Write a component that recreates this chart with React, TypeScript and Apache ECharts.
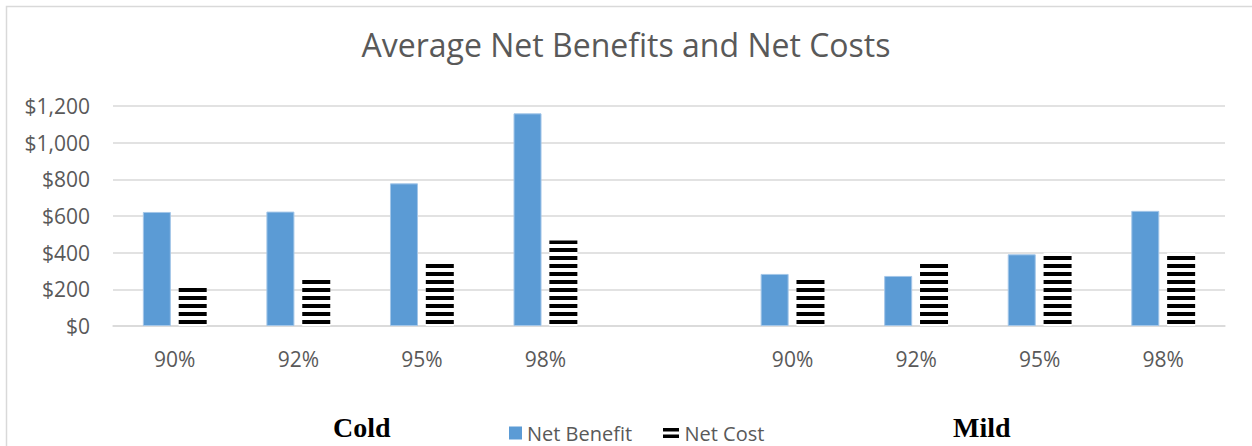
import React, { useEffect, useRef } from "react";
import * as echarts from "echarts";

const categories = ["Cold 90%", "Cold 92%", "Cold 95%", "Cold 98%", "gap", "Mild 90%", "Mild 92%", "Mild 95%", "Mild 98%"];
const tickLabels = ["90%", "92%", "95%", "98%", "", "90%", "92%", "95%", "98%"];
const netBenefit = [622, 624, 778, 1160, null, 284, 273, 391, 628];
const netCost = [210, 268, 355, 467, null, 267, 338, 400, 400];
const yTicks = [0, 200, 400, 600, 800, 1000, 1200];
const groupLabels = ["Cold", "Mild"];

const FONT = "'Open Sans', 'Noto Sans', sans-serif";
const GREY = "#595959";

function makeStripeCanvas(): HTMLCanvasElement {
  const c = document.createElement("canvas");
  c.width = 8;
  c.height = 8;
  const ctx = c.getContext("2d")!;
  ctx.fillStyle = "#ffffff";
  ctx.fillRect(0, 0, 8, 8);
  ctx.fillStyle = "#000000";
  ctx.fillRect(0, 0, 8, 4);
  return c;
}

export default function App() {
  const ref = useRef<HTMLDivElement>(null);
  useEffect(() => {
    if (!ref.current) return;
    const chart = echarts.init(ref.current, null, { renderer: "svg" });
    const stripe = makeStripeCanvas();
    const legendText = { fontFamily: FONT, fontSize: 20, lineHeight: 18, color: GREY };
    chart.setOption({
      animation: false,
      backgroundColor: "#ffffff",
      title: {
        text: "Average Net Benefits and Net Costs",
        left: "center",
        top: 23,
        textStyle: { fontFamily: FONT, fontSize: 32, fontWeight: "normal", color: GREY },
      },
      legend: [
        {
          left: 509,
          top: 423,
          padding: 0,
          itemWidth: 13,
          itemHeight: 13,
          itemGap: 6,
          textStyle: legendText,
          data: [{ name: "Net Benefit", icon: "rect", itemStyle: { color: "#5B9BD5", borderWidth: 0 } }],
        },
        {
          left: 663,
          top: 423,
          padding: 0,
          itemWidth: 17,
          itemHeight: 10,
          textStyle: legendText,
          data: [
            {
              name: "Net Cost",
              icon: "path://M0,0H16V3.5H0Z M0,6.5H16V10H0Z",
              itemStyle: { color: "#000000", borderWidth: 0 },
            },
          ],
        },
      ],
      grid: { left: 113, right: 27, top: 106, bottom: 120, containLabel: false },
      xAxis: {
        type: "category",
        data: categories,
        axisLine: { show: true, lineStyle: { color: "#d9d9d9", width: 1.5 } },
        axisTick: { show: false },
        axisLabel: {
          interval: 0,
          margin: 22,
          fontFamily: FONT,
          fontSize: 21,
          color: GREY,
          formatter: (_v: string, i: number) => tickLabels[i],
        },
      },
      yAxis: {
        type: "value",
        min: yTicks[0],
        max: yTicks[yTicks.length - 1],
        interval: 200,
        axisLine: { show: false },
        axisTick: { show: false },
        splitLine: { lineStyle: { color: "#d9d9d9", width: 1.5 } },
        axisLabel: {
          margin: 23,
          fontFamily: FONT,
          fontSize: 21,
          color: GREY,
          formatter: (v: number) => "$" + v.toLocaleString("en-US"),
        },
      },
      series: [
        {
          name: "Net Benefit",
          type: "bar",
          data: netBenefit,
          barWidth: 28,
          barGap: "28%",
          itemStyle: { color: "#5B9BD5", borderColor: "#a3c6e8", borderWidth: 1 },
        },
        {
          name: "Net Cost",
          type: "bar",
          data: netCost,
          barWidth: 28,
          itemStyle: {
            color: { image: stripe, repeat: "repeat", x: 0, y: 5 },
          },
        },
      ],
      graphic: [
        {
          type: "rect",
          shape: { x: 6.5, y: 6.5, width: 1300, height: 500 },
          style: { fill: "none", stroke: "#d9d9d9", lineWidth: 1.5 },
          silent: true,
        },
        {
          type: "text",
          left: 333,
          top: 413,
          style: { text: groupLabels[0], font: "bold 28px 'Liberation Serif', 'Times New Roman', serif", fill: "#000000" },
        },
        {
          type: "text",
          left: 953,
          top: 413,
          style: { text: groupLabels[1], font: "bold 28px 'Liberation Serif', 'Times New Roman', serif", fill: "#000000" },
        },
      ],
    });
    return () => chart.dispose();
  }, []);
  return <div ref={ref} style={{ position: "absolute", left: 0, top: 0, width: 1252, height: 446 }} />;
}
